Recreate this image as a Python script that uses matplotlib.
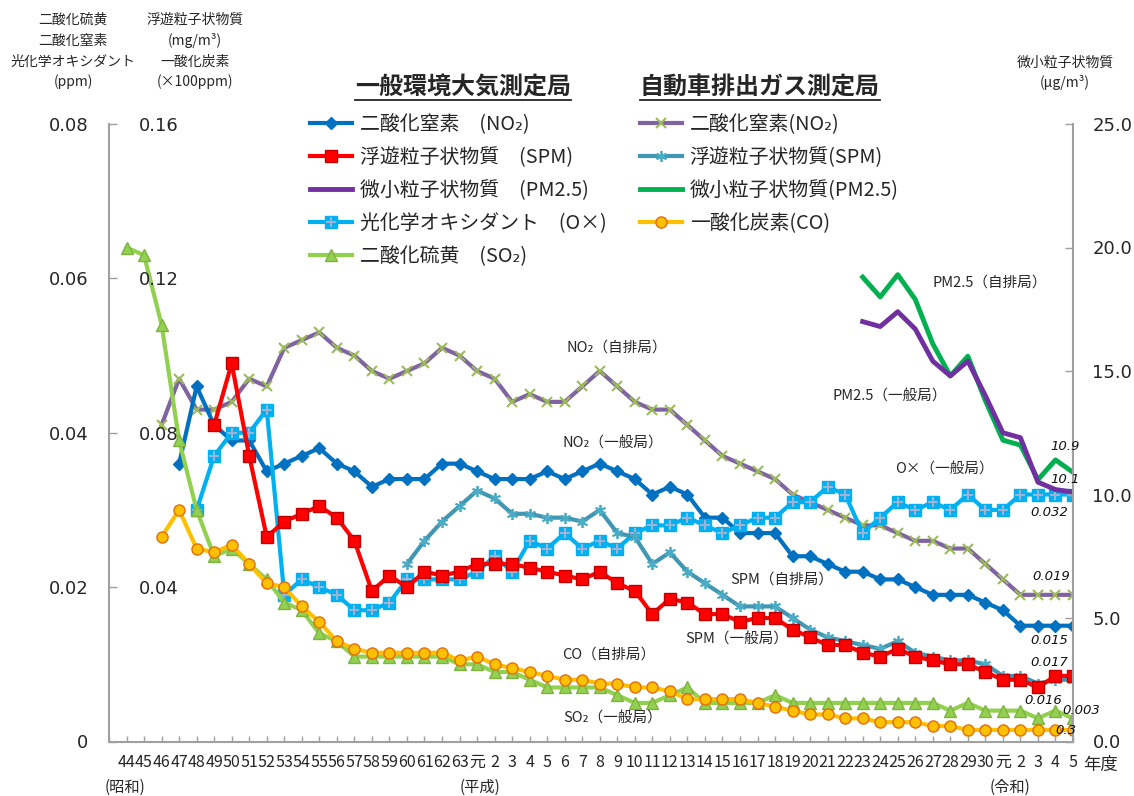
import numpy as np
import matplotlib
matplotlib.use('Agg')
import matplotlib.pyplot as plt
from matplotlib.lines import Line2D

plt.rcParams['font.family'] = ['Noto Sans CJK JP', 'DejaVu Sans']

nan = np.nan

# 年度ラベル（昭和44〜63、平成元〜30、令和元〜5）
year_labels = ['44', '45', '46', '47', '48', '49', '50', '51', '52', '53',
               '54', '55', '56', '57', '58', '59', '60', '61', '62', '63',
               '元', '2', '3', '4', '5', '6', '7', '8', '9', '10',
               '11', '12', '13', '14', '15', '16', '17', '18', '19', '20',
               '21', '22', '23', '24', '25', '26', '27', '28', '29', '30',
               '元', '2', '3', '4', '5']

# 一般環境大気測定局 (ppm)
no2_gen = [nan, nan, nan, 0.036, 0.046, 0.041, 0.039, 0.039, 0.035, 0.036,
           0.037, 0.038, 0.036, 0.035, 0.033, 0.034, 0.034, 0.034, 0.036, 0.036,
           0.035, 0.034, 0.034, 0.034, 0.035, 0.034, 0.035, 0.036, 0.035, 0.034,
           0.032, 0.033, 0.032, 0.029, 0.029, 0.027, 0.027, 0.027, 0.024, 0.024,
           0.023, 0.022, 0.022, 0.021, 0.021, 0.020, 0.019, 0.019, 0.019, 0.018,
           0.017, 0.015, 0.015, 0.015, 0.015]
ox_gen = [nan, nan, nan, nan, 0.030, 0.037, 0.040, 0.040, 0.043, 0.019,
          0.021, 0.020, 0.019, 0.017, 0.017, 0.018, 0.021, 0.021, 0.021, 0.021,
          0.022, 0.024, 0.022, 0.026, 0.025, 0.027, 0.025, 0.026, 0.025, 0.027,
          0.028, 0.028, 0.029, 0.028, 0.027, 0.028, 0.029, 0.029, 0.031, 0.031,
          0.033, 0.032, 0.027, 0.029, 0.031, 0.030, 0.031, 0.030, 0.032, 0.030,
          0.030, 0.032, 0.032, 0.032, 0.032]
so2_gen = [0.064, 0.063, 0.054, 0.039, 0.030, 0.024, 0.025, 0.023, 0.021, 0.018,
           0.017, 0.014, 0.013, 0.011, 0.011, 0.011, 0.011, 0.011, 0.011, 0.010,
           0.010, 0.009, 0.009, 0.008, 0.007, 0.007, 0.007, 0.007, 0.006, 0.005,
           0.005, 0.006, 0.007, 0.005, 0.005, 0.005, 0.005, 0.006, 0.005, 0.005,
           0.005, 0.005, 0.005, 0.005, 0.005, 0.005, 0.005, 0.004, 0.005, 0.004,
           0.004, 0.004, 0.003, 0.004, 0.003]
# 浮遊粒子状物質 (mg/m3)
spm_gen = [nan, nan, nan, nan, nan, 0.082, 0.098, 0.074, 0.053, 0.057,
           0.059, 0.061, 0.058, 0.052, 0.039, 0.043, 0.040, 0.044, 0.043, 0.044,
           0.046, 0.046, 0.046, 0.045, 0.044, 0.043, 0.042, 0.044, 0.041, 0.039,
           0.033, 0.037, 0.036, 0.033, 0.033, 0.031, 0.032, 0.032, 0.029, 0.027,
           0.025, 0.025, 0.023, 0.022, 0.024, 0.022, 0.021, 0.020, 0.020, 0.018,
           0.016, 0.016, 0.014, 0.017, 0.017]
# 微小粒子状物質 (μg/m3)
pm25_gen = [nan] * 42 + [17.0, 16.8, 17.4, 16.7, 15.4, 14.8, 15.4, 14.0, 12.5,
                         12.3, 10.5, 10.2, 10.1]

# 自動車排出ガス測定局
no2_road = [nan, nan, 0.041, 0.047, 0.043, 0.043, 0.044, 0.047, 0.046, 0.051,
            0.052, 0.053, 0.051, 0.050, 0.048, 0.047, 0.048, 0.049, 0.051, 0.050,
            0.048, 0.047, 0.044, 0.045, 0.044, 0.044, 0.046, 0.048, 0.046, 0.044,
            0.043, 0.043, 0.041, 0.039, 0.037, 0.036, 0.035, 0.034, 0.032, 0.031,
            0.030, 0.029, 0.028, 0.028, 0.027, 0.026, 0.026, 0.025, 0.025, 0.023,
            0.021, 0.019, 0.019, 0.019, 0.019]
spm_road = [nan] * 16 + [0.046, 0.052, 0.057, 0.061,
            0.065, 0.063, 0.059, 0.059, 0.058, 0.058, 0.057, 0.060, 0.054, 0.053,
            0.046, 0.049, 0.044, 0.041, 0.038, 0.035, 0.035, 0.035, 0.032, 0.029,
            0.027, 0.026, 0.025, 0.024, 0.026, 0.023, 0.022, 0.021, 0.021, 0.020,
            0.017, 0.017, 0.015, 0.016, 0.016]
pm25_road = [nan] * 42 + [18.8, 18.0, 18.9, 17.9, 16.1, 14.8, 15.6, 13.8, 12.2,
                          12.0, 10.6, 11.4, 10.9]
# 一酸化炭素 (×100ppm)
co_road = [nan, nan, 0.053, 0.060, 0.050, 0.049, 0.051, 0.046, 0.041, 0.040,
           0.035, 0.031, 0.026, 0.024, 0.023, 0.023, 0.023, 0.023, 0.023, 0.021,
           0.022, 0.020, 0.019, 0.018, 0.017, 0.016, 0.016, 0.015, 0.015, 0.014,
           0.014, 0.013, 0.011, 0.011, 0.011, 0.011, 0.010, 0.009, 0.008, 0.007,
           0.007, 0.006, 0.006, 0.005, 0.005, 0.005, 0.004, 0.004, 0.003, 0.003,
           0.003, 0.003, 0.003, 0.003, 0.003]

W, H = 1134, 796
def fx(px):
    return px / W
def fy(py):
    return 1 - py / H

x = np.arange(len(year_labels))
txt = '#262626'
grid_c = '#A0A0A0'

fig = plt.figure(figsize=(W / 100, H / 100), dpi=100)
ax = fig.add_axes([fx(109), fy(741.5), fx(1073) - fx(109), fy(124) - fy(741.5)])
ax_in = ax.twinx()   # SPM / CO scale, labels inside the left spine
ax_r = ax.twinx()    # PM2.5 scale

lw = 3
# primary axis (ppm)
l_no2r, = ax.plot(x, no2_road, color='#8064A2', lw=lw, marker='x', ms=7, mew=1.5,
                  mec='#9BBB59')
l_no2g, = ax.plot(x, no2_gen, color='#0070C0', lw=lw, marker='D', ms=6,
                  mfc='#0070C0', mec='#0070C0')
l_ox, = ax.plot(x, ox_gen, color='#00B0F0', lw=lw, marker='s', ms=8,
                mfc='#00B0F0', mec='#00B0F0')
l_oxp, = ax.plot(x, ox_gen, ls='none', marker='+', ms=7, mew=1.5, mec='#9DB3D6')
l_so2, = ax.plot(x, so2_gen, color='#92D050', lw=lw, marker='^', ms=8,
                 mfc='#92D050', mec='#7FB241')

# inner axis (mg/m3, x100ppm)
l_spmr, = ax_in.plot(x, spm_road, color='#4197B2', lw=lw, marker=(6, 2, 0), ms=8,
                     mew=1.3, mec='#4BACC6')
l_co, = ax_in.plot(x, co_road, color='#FFC000', lw=lw, marker='o', ms=8,
                   mfc='#FFC000', mec='#E46C0A', mew=1)
l_spmg, = ax_in.plot(x, spm_gen, color='#FF0000', lw=lw, marker='s', ms=8,
                     mfc='#FF0000', mec='#C00000', mew=1)

# right axis (μg/m3)
l_pmr, = ax_r.plot(x, pm25_road, color='#00B050', lw=3.5)
l_pmg, = ax_r.plot(x, pm25_gen, color='#7030A0', lw=3.5)

# axes styling
ax.set_xlim(-1, 54)
ax.set_ylim(0, 0.08)
ax_in.set_ylim(0, 0.16)
ax_r.set_ylim(0, 25)

for a in (ax, ax_in, ax_r):
    for s in a.spines.values():
        s.set_visible(False)
ax.spines['left'].set_visible(True)
ax.spines['bottom'].set_visible(True)
ax_r.spines['right'].set_visible(True)
for s in (ax.spines['left'], ax.spines['bottom'], ax_r.spines['right']):
    s.set_color(grid_c)
    s.set_linewidth(1.5)

ax.set_xticks(np.arange(-1, 55))
ax.set_xticklabels([''] + year_labels)
ax.tick_params(axis='x', direction='in', length=4, width=1, color=grid_c,
               pad=9, labelsize=11.5, labelcolor=txt)

ax.set_yticks([0, 0.02, 0.04, 0.06, 0.08])
ax.set_yticklabels(['0', '0.02', '0.04', '0.06', '0.08'])
ax.tick_params(axis='y', direction='in', length=6, width=1, color=grid_c,
               pad=15, labelsize=13, labelcolor=txt)

ax_in.yaxis.tick_left()
ax_in.set_yticks([0.04, 0.08, 0.12, 0.16])
ax_in.set_yticklabels(['0.04', '0.08', '0.12', '0.16'])
ax_in.tick_params(axis='y', direction='in', length=0, pad=-50, labelsize=13,
                  labelcolor=txt)

ax_r.set_yticks([0, 5, 10, 15, 20, 25])
ax_r.set_yticklabels(['0.0', '5.0', '10.0', '15.0', '20.0', '25.0'])
ax_r.tick_params(axis='y', direction='in', length=6, width=1, color=grid_c,
                 pad=14, labelsize=13, labelcolor=txt)

for lbl in ax.get_yticklabels() + ax_in.get_yticklabels() + ax_r.get_yticklabels():
    lbl.set_fontfamily('DejaVu Sans')

# axis headers
for px_, py_, s in [(73, 20, '二酸化硫黄'), (73, 41, '二酸化窒素'),
                    (73, 62, '光化学オキシダント'), (73, 82, '(ppm)'),
                    (195, 20, '浮遊粒子状物質'), (195, 41, '(mg/m³)'),
                    (195, 62, '一酸化炭素'), (195, 82, '(×100ppm)'),
                    (1065, 63, '微小粒子状物質'), (1065, 83, '(μg/m³)')]:
    fig.text(fx(px_), fy(py_), s, ha='center', va='center', fontsize=10, color=txt)

# era labels
fig.text(fx(125), fy(787), '(昭和)', ha='center', va='center', fontsize=11, color=txt)
fig.text(fx(480), fy(787), '(平成)', ha='center', va='center', fontsize=11, color=txt)
fig.text(fx(1010), fy(787), '(令和)', ha='center', va='center', fontsize=11, color=txt)
fig.text(fx(1083), fy(765), '年度', ha='left', va='center', fontsize=12.5, color=txt)

# series labels inside the plot
for px_, py_, s in [(567, 348, 'NO₂（自排局）'), (562, 444, 'NO₂（一般局）'),
                    (730, 580, 'SPM（自排局）'), (685, 640, 'SPM（一般局）'),
                    (562, 655, 'CO（自排局）'), (563, 719, 'SO₂（一般局）'),
                    (933, 283, 'PM2.5（自排局）'), (833, 397, 'PM2.5（一般局）'),
                    (895, 470, 'O×（一般局）')]:
    fig.text(fx(px_), fy(py_), s, ha='left', va='center', fontsize=10.5, color=txt)

# latest values
for px_, py_, s in [(1065, 446, '10.9'), (1065, 480, '10.1'), (1049, 513, '0.032'),
                    (1051, 577, '0.019'), (1049, 641, '0.015'), (1049, 663, '0.017'),
                    (1043, 701, '0.016'), (1081, 711, '0.003'), (1066, 731, '0.3')]:
    fig.text(fx(px_), fy(py_), s, ha='center', va='center', fontsize=9.5,
             style='italic', family='DejaVu Sans', color='#111111')

# legend titles
t1 = fig.text(fx(355), fy(87), '一般環境大気測定局', ha='left', va='center',
              fontsize=17.3, fontweight='bold', color=txt)
t2 = fig.text(fx(640), fy(87), '自動車排出ガス測定局', ha='left', va='center',
              fontsize=17.3, fontweight='bold', color=txt)

leg_kw = dict(loc='upper left', frameon=False, borderpad=0, borderaxespad=0,
              handlelength=2.1, handletextpad=0.4, labelspacing=0.6,
              prop={'size': 14.3}, labelcolor=txt)
leg1 = fig.legend([l_no2g, l_spmg, l_pmg, (l_ox, l_oxp), l_so2],
                  ['二酸化窒素　(NO₂)', '浮遊粒子状物質　(SPM)', '微小粒子状物質　(PM2.5)',
                   '光化学オキシダント　(O×)', '二酸化硫黄　(SO₂)'],
                  bbox_to_anchor=(fx(310), fy(114)), **leg_kw)
leg2 = fig.legend([l_no2r, l_spmr, l_pmr, l_co],
                  ['二酸化窒素(NO₂)', '浮遊粒子状物質(SPM)', '微小粒子状物質(PM2.5)',
                   '一酸化炭素(CO)'],
                  bbox_to_anchor=(fx(640), fy(114)), **leg_kw)

# underline the titles
fig.canvas.draw()
for t in (t1, t2):
    bb = t.get_window_extent()
    yl = (bb.y0 - 1) / fig.bbox.height
    fig.add_artist(Line2D([bb.x0 / fig.bbox.width, bb.x1 / fig.bbox.width], [yl, yl],
                          transform=fig.transFigure, color=txt, lw=1.3))

fig.savefig('out.png', dpi=100)
